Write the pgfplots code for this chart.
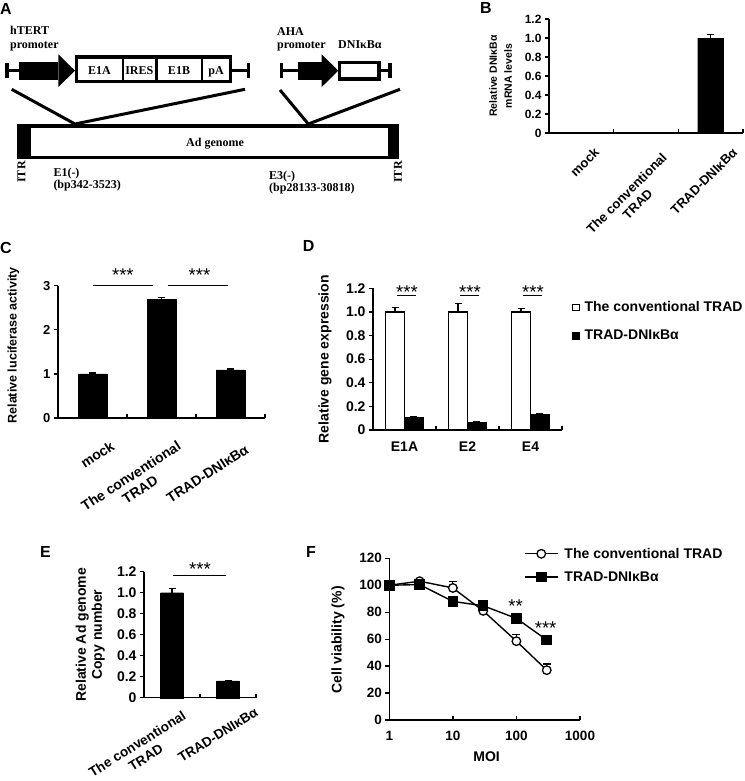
\documentclass[border=0pt]{standalone}
\usepackage{fontspec}
\setmainfont{Liberation Sans}
\newfontfamily\timesf{Liberation Serif}
\usepackage{pgfplots}
\pgfplotsset{compat=1.18}
\newcommand\fs[2]{\fontsize{#1}{#2}\selectfont\bfseries}

\pgfplotsset{
  bars/.style={
    scale only axis, anchor=south west, clip=false,
    axis x line*=bottom, axis y line*=left,
    axis line style={line width=1.5pt},
    tick align=outside, major tick length=4pt,
    major tick style={line width=1.3pt, black},
    xtick style={draw=none},
    ylabel style={align=center, anchor=center},
  },
  errs/.style={error bars/.cd, y dir=plus, y explicit,
    error bar style={line width=1.3pt},
    error mark options={rotate=90, line width=1.3pt, mark size=3.5pt}},
}
\tikzset{
  stars/.style={anchor=base, inner sep=0pt, font=\fontsize{18.5}{20}\selectfont},
  xl/.style={anchor=north east, inner sep=0pt, align=center},
}

\begin{document}
\begin{tikzpicture}
\useasboundingbox (0,0) rectangle (744pt,-781pt);

% ---------- A: construct diagram ----------
\begin{scope}[x=1pt, y=-1pt]
\node[anchor=base west, inner sep=0pt, font=\fs{16}{18}] at (0,15) {A};
\begin{scope}[font=\timesf\fontsize{12}{13}\selectfont\bfseries]
\node[anchor=base west, inner sep=0pt] at (10,35) {hTERT};
\node[anchor=base west, inner sep=0pt] at (10,49) {promoter};
\draw[line width=3.5pt] (7,70.7) -- (20,70.7);
\draw[line width=3.5pt] (7,63) -- (7,78.5);
\fill (19.3,61.7) rectangle (58.3,80);
\fill (58.3,54.3) -- (75,70.7) -- (58.3,87) -- cycle;
\fill (74.5,55.5) rectangle (232,83.5);
\fill[white] (77.5,59) rectangle (121.5,80);
\fill[white] (123.5,59) rectangle (155,80);
\fill[white] (157.5,59) rectangle (200.5,80);
\fill[white] (203,59) rectangle (229,80);
\node[anchor=base, inner sep=0pt] at (99.5,75) {E1A};
\node[anchor=base, inner sep=0pt] at (139.3,75) {IRES};
\node[anchor=base, inner sep=0pt] at (179,75) {E1B};
\node[anchor=base, inner sep=0pt] at (216,75) {pA};
\draw[line width=3.5pt] (232,70.7) -- (248.3,70.7);
\draw[line width=3.5pt] (248.3,63) -- (248.3,78.5);

\node[anchor=base west, inner sep=0pt] at (277,36) {AHA};
\node[anchor=base west, inner sep=0pt] at (277,49) {promoter};
\node[anchor=base west, inner sep=0pt] at (338,49) {DNIκBα};
\draw[line width=3.5pt] (281.7,70.7) -- (299,70.7);
\draw[line width=3.5pt] (281.7,63) -- (281.7,78.5);
\fill (298.3,61.7) rectangle (321.7,80);
\fill (321.7,54.3) -- (338.3,70.7) -- (321.7,87) -- cycle;
\draw[line width=3.3pt, fill=white] (339.5,62.3) rectangle (379,79);
\draw[line width=3.5pt] (380.5,70.7) -- (390,70.7);
\draw[line width=3.5pt] (390,63) -- (390,78.5);

\draw[line width=3pt] (11.7,89.3) -- (75,124) -- (245,89.3);
\draw[line width=3pt] (280,90) -- (308.3,124) -- (400,89.3);
\fill (17.3,124) rectangle (399.3,159.3);
\fill[white] (30.7,128.3) rectangle (388.3,156);
\node[anchor=base, inner sep=0pt] at (215,146.7) {Ad genome};
\node[rotate=90, inner sep=0pt] at (21.5,172) {ITR};
\node[rotate=90, inner sep=0pt] at (398,172) {ITR};
\node[anchor=base west, inner sep=0pt] at (53.3,176.5) {E1(-)};
\node[anchor=base west, inner sep=0pt] at (53.3,188.5) {(bp342-3523)};
\node[anchor=base west, inner sep=0pt] at (269,179) {E3(-)};
\node[anchor=base west, inner sep=0pt] at (269,191) {(bp28133-30818)};
\end{scope}
\node[anchor=base west, inner sep=0pt, font=\fs{16}{18}] at (480,13.5) {B};
\node[anchor=base west, inner sep=0pt, font=\fs{16}{18}] at (0,253) {C};
\node[anchor=base west, inner sep=0pt, font=\fs{16}{18}] at (302.7,251) {D};
\node[anchor=base west, inner sep=0pt, font=\fs{16}{18}] at (40,557) {E};
\node[anchor=base west, inner sep=0pt, font=\fs{16}{18}] at (306,557) {F};
\end{scope}

% ---------- B ----------
\begin{axis}[bars, at={(549pt,-133pt)}, width=194pt, height=114pt,
  xmin=-0.5, xmax=2.5, ymin=0, ymax=1.2, xtick=\empty,
  ytick={0,0.2,0.4,0.6,0.8,1,1.2}, yticklabels={0,0.2,0.4,0.6,0.8,1.0,1.2},
  yticklabel style={font=\fs{12}{14}},
  ylabel={Relative DNIκBα\\mRNA levels},
  ylabel style={font=\fs{10.5}{15}, at={(axis description cs:-0.25,0.5)}}]
\addplot[ybar, bar width=0.4, fill=black, draw=black, errs] coordinates {(0,0) +- (0,0) (1,0) +- (0,0) (2,1.0) +- (0,0.04)};
\draw[line width=1.3pt] (axis cs:0.5,0) -- ++(0pt,4pt) (axis cs:1.5,0) -- ++(0pt,4pt) (axis cs:2.5,0) -- ++(0pt,4pt);
\begin{scope}[every node/.style={xl, rotate=45, font=\fs{13}{15.5}}]
\node at ([xshift=12pt,yshift=-13.7pt]axis cs:0,0) {mock};
\node at ([xshift=15pt,yshift=-18.7pt]axis cs:1,0) {The conventional\\TRAD};
\node at ([xshift=21pt,yshift=-14pt]axis cs:2,0) {TRAD-DNIκBα};
\end{scope}
\end{axis}

% ---------- C ----------
\begin{axis}[bars, at={(58pt,-418pt)}, width=207pt, height=132.3pt,
  xmin=-0.5, xmax=2.5, ymin=0, ymax=3, xtick=\empty,
  ytick={0,1,2,3}, yticklabels={0,1,2,3},
  yticklabel style={font=\fs{13}{15}},
  ylabel={Relative luciferase activity},
  ylabel style={font=\fs{12.5}{15}, at={(axis description cs:-0.215,0.55)}}]
\addplot[ybar, bar width=0.42, fill=black, draw=black, errs] coordinates {(0,1.0) +- (0,0.02) (1,2.69) +- (0,0.04) (2,1.09) +- (0,0.02)};
\draw[line width=1.3pt] (axis cs:0.5,0) -- ++(0pt,4pt) (axis cs:1.5,0) -- ++(0pt,4pt) (axis cs:2.5,0) -- ++(0pt,4pt);
\draw[line width=1.2pt] (axis cs:0,3) -- (axis cs:0.88,3);
\draw[line width=1.2pt] (axis cs:1.09,3) -- (axis cs:1.96,3);
\node[stars] at (axis cs:0.44,3.09) {***};
\node[stars] at (axis cs:1.55,3.09) {***};
\begin{scope}[every node/.style={xl, rotate=33, font=\fs{14}{16.5}}]
\node at ([xshift=17.5pt,yshift=-22pt]axis cs:0,0) {mock};
\node at ([xshift=15pt,yshift=-22pt]axis cs:1,0) {The conventional\\TRAD};
\node at ([xshift=14pt,yshift=-26pt]axis cs:2,0) {TRAD-DNIκBα};
\end{scope}
\end{axis}

% ---------- D ----------
\begin{axis}[bars, at={(373pt,-430pt)}, width=189pt, height=141.7pt,
  xmin=-0.5, xmax=2.5, ymin=0, ymax=1.2,
  xtick={0,1,2}, xticklabels={E1A,E2,E4},
  ytick={0,0.2,0.4,0.6,0.8,1,1.2}, yticklabels={0,0.2,0.4,0.6,0.8,1.0,1.2},
  xticklabel style={anchor=north, font=\fs{14}{16}, yshift=-4pt},
  yticklabel style={font=\fs{14}{16}},
  ylabel={Relative gene expression},
  ylabel style={font=\fs{14}{16}, at={(axis description cs:-0.254,0.5)}},
  legend style={at={(1.035,0.935)}, anchor=north west, draw=none, fill=none,
    font=\fs{14}{16}, row sep=13pt, cells={anchor=west},
    /tikz/every odd column/.append style={column sep=3pt}},
  legend image code/.code={\draw[#1, line width=1pt] (0pt,-3.3pt) rectangle (6.8pt,3.3pt);}]
% bars drawn at their own x positions (category -/+ 0.15)
\addplot[ybar, bar width=0.3, fill=white, draw=black, line width=1.3pt, errs] coordinates {(-0.15,1.0) +- (0,0.04) (0.85,1.0) +- (0,0.07) (1.85,1.0) +- (0,0.03)};
\addlegendentry{The conventional TRAD}
\addplot[ybar, bar width=0.3, fill=black, draw=black, line width=1.3pt, errs] coordinates {(0.15,0.105) +- (0,0.008) (1.15,0.065) +- (0,0.005) (2.15,0.13) +- (0,0.008)};
\addlegendentry{TRAD-DNIκBα}
\draw[line width=1.3pt] (axis cs:0.5,0) -- ++(0pt,4pt) (axis cs:1.5,0) -- ++(0pt,4pt) (axis cs:2.5,0) -- ++(0pt,4pt);
\draw[line width=1.2pt] (axis cs:-0.12,1.138) -- (axis cs:0.18,1.138);
\draw[line width=1.2pt] (axis cs:0.88,1.138) -- (axis cs:1.18,1.138);
\draw[line width=1.2pt] (axis cs:1.88,1.138) -- (axis cs:2.18,1.138);
\node[stars] at (axis cs:0.04,1.11) {***};
\node[stars] at (axis cs:1.04,1.11) {***};
\node[stars] at (axis cs:2.04,1.11) {***};
\end{axis}

% ---------- E ----------
\begin{axis}[bars, at={(144pt,-697.7pt)}, width=112pt, height=126pt,
  xmin=-0.5, xmax=1.5, ymin=0, ymax=1.2, xtick=\empty,
  ytick={0,0.2,0.4,0.6,0.8,1,1.2}, yticklabels={0,0.2,0.4,0.6,0.8,1.0,1.2},
  yticklabel style={font=\fs{14}{16}},
  ylabel={Relative Ad genome\\Copy number},
  ylabel style={font=\fs{14}{16}, at={(axis description cs:-0.48,0.5)}}]
\addplot[ybar, bar width=0.41, fill=black, draw=black, errs] coordinates {(0,1.0) +- (0,0.04) (1,0.16) +- (0,0.004)};
\draw[line width=1.3pt] (axis cs:0.5,0) -- ++(0pt,4pt) (axis cs:1.5,0) -- ++(0pt,4pt);
\draw[line width=1.2pt] (axis cs:0.02,1.162) -- (axis cs:0.96,1.162);
\node[stars] at (axis cs:0.5,1.162) {***};
\begin{scope}[every node/.style={xl, rotate=32, font=\fs{13.5}{16}}]
\node at ([xshift=9.7pt,yshift=-12.3pt]axis cs:0,0) {The conventional\\TRAD};
\node at ([xshift=26pt,yshift=-9pt]axis cs:1,0) {TRAD-DNIκBα};
\end{scope}
\end{axis}

% ---------- F ----------
\begin{axis}[bars, at={(389.3pt,-720pt)}, width=190.7pt, height=161.7pt,
  xmode=log, xmin=1, xmax=1000, ymin=0, ymax=120,
  xtick={1,10,100,1000}, xticklabels={1,10,100,1000},
  ytick={0,20,40,60,80,100,120}, yticklabels={0,20,40,60,80,100,120},
  xticklabel style={anchor=north, font=\fs{13.5}{16}, yshift=-4pt},
  yticklabel style={font=\fs{13.5}{16}},
  xlabel={MOI}, xlabel style={font=\fs{14}{16}, at={(axis description cs:0.51,-0.227)}, anchor=center},
  ylabel={Cell viability (\%)},
  ylabel style={font=\fs{14}{16}, at={(axis description cs:-0.269,0.495)}},
  legend style={at={(0.69,1.09)}, anchor=north west, draw=none, fill=none,
    font=\fs{14}{16}, row sep=8pt, cells={anchor=west},
    /tikz/every odd column/.append style={column sep=4pt}},
  legend image code/.code={\draw[mark repeat=2, mark phase=2, #1] plot coordinates {(0pt,0pt) (16.5pt,0pt) (33pt,0pt)};}]
\addplot[black, line width=1.4pt, mark=*, mark size=4.3pt, mark options={fill=white, line width=1.3pt},
  error bars/.cd, y dir=plus, y explicit, error bar style={line width=1.2pt},
  error mark options={rotate=90, line width=1.2pt, mark size=4pt}]
  coordinates {(1,100) +- (0,0) (3,103) +- (0,1.5) (10,98) +- (0,5) (30,81) +- (0,1) (100,58.5) +- (0,5) (300,37) +- (0,4.5)};
\addlegendentry{The conventional TRAD}
\addplot[black, line width=1.4pt, mark=square*, mark size=4.6pt, mark options={fill=black},
  error bars/.cd, y dir=plus, y explicit, error bar style={line width=1.2pt},
  error mark options={rotate=90, line width=1.2pt, mark size=4pt}]
  coordinates {(1,100) +- (0,0) (3,100.5) +- (0,1) (10,88) +- (0,3.5) (30,84.8) +- (0,1) (100,75.4) +- (0,1) (300,59.4) +- (0,1)};
\addlegendentry{TRAD-DNIκBα}
\draw[line width=1.3pt] (axis cs:10,0) -- ++(0pt,4pt) (axis cs:100,0) -- ++(0pt,4pt) (axis cs:1000,0) -- ++(0pt,4pt);
\node[stars] at (axis cs:97,79.9) {**};
\node[stars] at (axis cs:288,63.8) {***};
\end{axis}
\end{tikzpicture}
\end{document}
